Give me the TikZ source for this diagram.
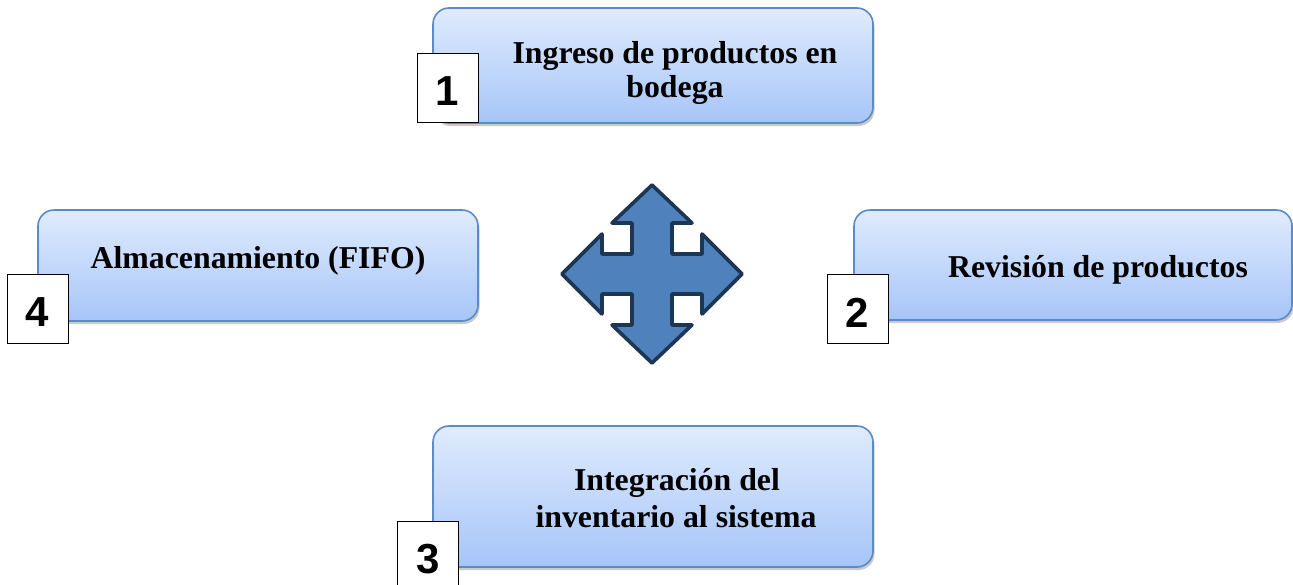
\documentclass[tikz,border=0pt]{standalone}
\usepackage{fontspec}
\setmainfont{Liberation Serif}
\newfontfamily\numfont{Liberation Sans}
\usetikzlibrary{shadows}
\definecolor{boxtop}{HTML}{E0EBFD}
\definecolor{boxbot}{HTML}{A6C5F8}
\definecolor{boxline}{HTML}{5A8AC9}
\definecolor{crossfill}{HTML}{4F81BD}
\definecolor{crossline}{HTML}{1D3654}
\tikzset{
  stagebox/.style={rectangle, rounded corners=16pt, draw=boxline, line width=1.6pt,
    top color=boxtop, bottom color=boxbot, minimum width=440pt,
    drop shadow={shadow xshift=1.5pt, shadow yshift=-3pt, opacity=0.35, fill=black!60},
    inner sep=0pt},
  numbox/.style={rectangle, draw=black, line width=1pt, fill=white,
    minimum width=61pt, minimum height=69pt, inner sep=0pt},
  numtext/.style={inner sep=0pt, yshift=-3.5pt,
    font=\numfont\bfseries\fontsize{42}{42}\selectfont},
  stagetext/.style={anchor=base, align=center, inner sep=0pt,
    font=\bfseries\fontsize{31.8}{36}\selectfont},
  crossshape/.style={fill=crossfill, draw=crossline, line width=3.6pt, line join=round}
}
\begin{document}
\begin{tikzpicture}[x=1pt,y=-1pt]
\useasboundingbox (0,0) rectangle (1293,584);
% boxes
\node[stagebox, minimum height=115pt] (b1) at (653,65.5) {};
\node[stagebox, minimum height=111pt] (b4) at (258,265.5) {};
\node[stagebox, minimum width=438pt, minimum height=110pt] (b2) at (1073,265) {};
\node[stagebox, minimum height=141pt] (b3) at (653,496.5) {};
% numbers
\node[numbox] (n1) at (447.5,87.5) {};
\node[numbox] (n4) at (37.5,308.5) {};
\node[numbox] (n2) at (857.5,309) {};
\node[numbox] (n3) at (428,555.5) {};
\node[numtext] (d1) at (n1.center) {1};
\node[numtext] (d4) at (n4.center) {4};
\node[numtext] (d2) at (n2.center) {2};
\node[numtext] (d3) at (n3.center) {3};
% texts
\node[stagetext] (t1a) at (675,63) {Ingreso de productos en};
\node[stagetext] (t1b) at (675,97) {bodega};
\node[stagetext] (t4) at (258,268) {Almacenamiento (FIFO)};
\node[stagetext] (t2) at (1098,277) {Revisión de productos};
\node[stagetext] (t3a) at (677,490) {Integración del};
\node[stagetext] (t3b) at (676,527) {inventario al sistema};
% cross arrow
\begin{scope}[shift={(652,274)}]
\draw[crossshape] (0,-89) -- (40,-51) -- (20,-51) -- (20,-20) -- (50,-20) -- (50,-40)
  -- (90,0) -- (50,40) -- (50,20) -- (20,20) -- (20,51) -- (40,51) -- (0,89)
  -- (-40,51) -- (-20,51) -- (-20,20) -- (-50,20) -- (-50,40) -- (-90,0)
  -- (-50,-40) -- (-50,-20) -- (-20,-20) -- (-20,-51) -- (-40,-51) -- cycle;
\end{scope}
\end{tikzpicture}
\end{document}
